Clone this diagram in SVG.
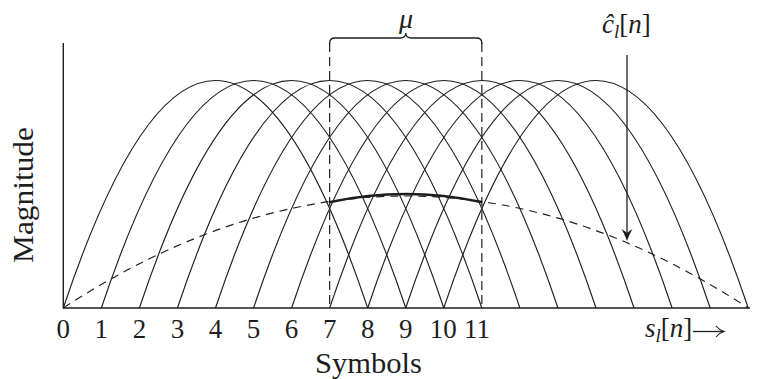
<svg xmlns="http://www.w3.org/2000/svg" width="757" height="379" viewBox="0 0 757 379">
<style>
.c{fill:none;stroke:#1e1e1e;stroke-width:1.15}
.ax{fill:none;stroke:#1e1e1e;stroke-width:1.4}
.dash{fill:none;stroke:#1e1e1e;stroke-width:1.2;stroke-dasharray:9 5}
.env{fill:none;stroke:#1e1e1e;stroke-width:1.15;stroke-dasharray:8 6}
.t{font-family:"Liberation Serif","Times New Roman",serif;fill:#1e1e1e}
.tick{font-size:27px;text-anchor:middle}
.it{font-style:italic}
</style>
<rect width="757" height="379" fill="#fff"/>
<g id="axes">
<path class="ax" d="M63.3,43 V308 H750"/>
</g>
<g id="curves">
<path class="c" d="M63.3,308 Q215.5,-147 367.7,308"/>
<path class="c" d="M101.35,308 Q253.55,-147 405.75,308"/>
<path class="c" d="M139.4,308 Q291.6,-147 443.8,308"/>
<path class="c" d="M177.45,308 Q329.65,-147 481.85,308"/>
<path class="c" d="M215.5,308 Q367.7,-147 519.9,308"/>
<path class="c" d="M253.55,308 Q405.75,-147 557.95,308"/>
<path class="c" d="M291.6,308 Q443.8,-147 596,308"/>
<path class="c" d="M329.65,308 Q481.85,-147 634.05,308"/>
<path class="c" d="M367.7,308 Q519.9,-147 672.1,308"/>
<path class="c" d="M405.75,308 Q557.95,-147 710.15,308"/>
<path class="c" d="M443.8,308 Q596,-147 748.2,308"/>
</g>
<g id="envelope">
<path class="env" d="M63.3,308 Q405.75,84 748.2,308"/>
</g>
<g id="window">
<path class="dash" d="M329.65,43 V308"/>
<path class="dash" d="M481.85,43 V308"/>
<path fill="none" stroke="#1e1e1e" stroke-width="2.6" stroke-linecap="round" d="M330.5,202 Q406,186 481,202"/>
<path fill="none" stroke="#1e1e1e" stroke-width="1.3" d="M329.65,44 V43 Q329.65,38 335,38 H400 Q405.75,38 405.75,33 Q405.75,38 411.5,38 H476.5 Q481.85,38 481.85,43 V44"/>
<text class="t it" x="406" y="28" font-size="28" text-anchor="middle">μ</text>
</g>
<g id="connectors">
<path fill="none" stroke="#1e1e1e" stroke-width="1.3" d="M627,55 V238"/>
<path fill="#1e1e1e" d="M627,241 Q624,233 621.5,229 Q625,231 627,233 Q629,231 632.5,229 Q630,233 627,241 Z"/>
<path fill="none" stroke="#1e1e1e" stroke-width="1.3" d="M693,331.5 H723"/>
<path fill="none" stroke="#1e1e1e" stroke-width="1.2" d="M716,326 Q719,330 724,331.5 Q719,333 716,337"/>
</g>
<g id="label-chat">
<text class="t" x="602" y="33" font-size="27"><tspan class="it">ĉ</tspan><tspan class="it" font-size="19" dy="5">l</tspan><tspan dy="-5">[</tspan><tspan class="it">n</tspan>]</text>
</g>
<g id="label-sl">
<text class="t" x="645" y="337" font-size="27"><tspan class="it">s</tspan><tspan class="it" font-size="19" dy="5">l</tspan><tspan dy="-5">[</tspan><tspan class="it">n</tspan>]</text>
</g>
<g id="ticks" class="t tick">
<text class="t tick" x="63.3" y="338">0</text>
<text class="t tick" x="101.35" y="338">1</text>
<text class="t tick" x="139.4" y="338">2</text>
<text class="t tick" x="177.45" y="338">3</text>
<text class="t tick" x="215.5" y="338">4</text>
<text class="t tick" x="253.55" y="338">5</text>
<text class="t tick" x="291.6" y="338">6</text>
<text class="t tick" x="329.65" y="338">7</text>
<text class="t tick" x="367.7" y="338">8</text>
<text class="t tick" x="405.75" y="338">9</text>
<text class="t tick" x="443.3" y="338">10</text>
<text class="t tick" x="477" y="338">11</text>
</g>
<g id="axis-labels">
<text class="t" x="368.5" y="373" font-size="29" text-anchor="middle" textLength="107" lengthAdjust="spacingAndGlyphs">Symbols</text>
<text class="t" transform="translate(33,195) rotate(-90)" x="0" y="0" font-size="29" text-anchor="middle" textLength="136" lengthAdjust="spacingAndGlyphs">Magnitude</text>
</g>
</svg>
